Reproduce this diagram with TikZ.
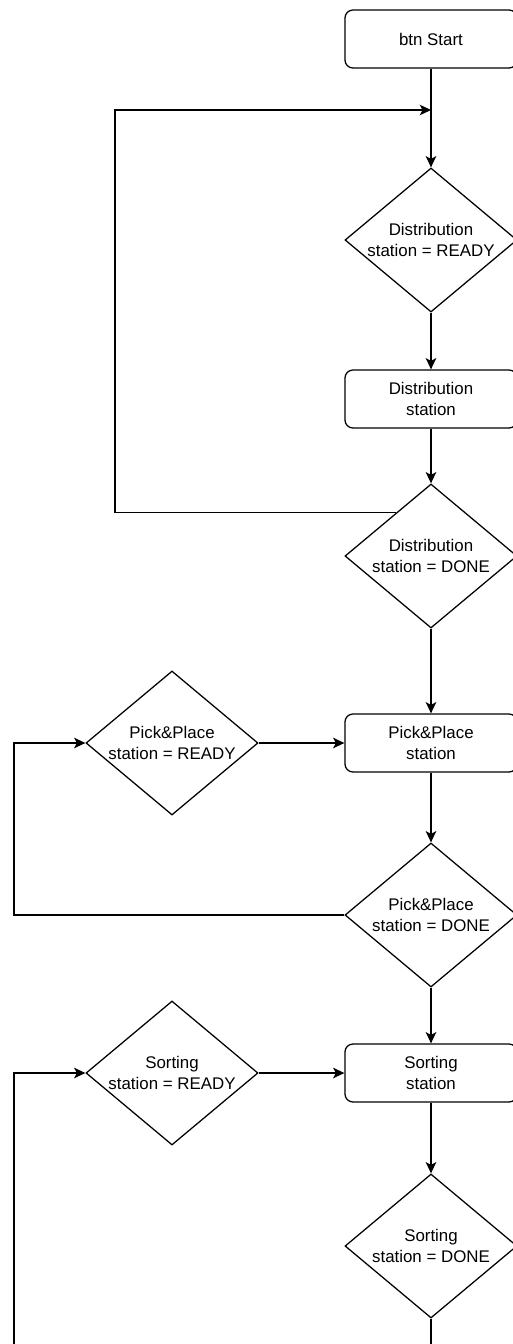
\documentclass[tikz,border=0pt]{standalone}
\usepackage{fontspec}
\setmainfont{Liberation Sans}
\usetikzlibrary{shapes.geometric,arrows.meta,calc}

\begin{document}
\begin{tikzpicture}[x=0.025cm,y=-0.025cm,line width=0.9pt,
    box/.style={draw,rounded corners=0.2cm,minimum width=4.3cm,minimum height=1.45cm,
        align=center,font=\fontsize{12}{15}\selectfont},
    cond/.style={draw,diamond,aspect=1.2,inner sep=0pt,minimum width=4.3cm,
        minimum height=3.6cm,align=center,font=\fontsize{12}{15}\selectfont},
    >={Stealth[length=8pt,width=7.5pt,inset=2pt]}]
    \useasboundingbox (0,0) rectangle (513,1344);
    \node[box](start) at (431,39) {btn Start};
    \node[cond](dr) at (431,240) {Distribution\\station = READY};
    \node[box](ds) at (431,399) {Distribution\\station};
    \node[cond](dd) at (431,556) {Distribution\\station = DONE};
    \node[cond](pr) at (172,743) {Pick\&Place\\station = READY};
    \node[box](ps) at (431,743) {Pick\&Place\\station};
    \node[cond](pd) at (431,915) {Pick\&Place\\station = DONE};
    \node[cond](sr) at (172,1073) {Sorting\\station = READY};
    \node[box](ss) at (431,1073) {Sorting\\station};
    \node[cond](sd) at (431,1246) {Sorting\\station = DONE};
    \coordinate (in) at (431,110);
    \coordinate (dl) at (115,110);
    \coordinate (pl) at (14,743);
    \coordinate (sl) at (14,1073);
    \coordinate (sb) at (14,1360);
    \coordinate (se) at (431,1360);
    \draw[->] (start) -- (dr);
    \draw[->] (dr) -- (ds);
    \draw[->] (ds) -- (dd);
    \draw[->] ($(dd.north)!0.4!(dd.west)$) -| (dl) -- (in);
    \draw[->] (dd) -- (ps);
    \draw[->] (pr) -- (ps);
    \draw[->] (ps) -- (pd);
    \draw[->] (pd.west) -| (pl) -- (pr.west);
    \draw[->] (pd) -- (ss);
    \draw[->] (sr) -- (ss);
    \draw[->] (ss) -- (sd);
    \draw (sd) -- (se);
    \draw[->] (sb) -- (sl) -- (sr.west);
\end{tikzpicture}
\end{document}
